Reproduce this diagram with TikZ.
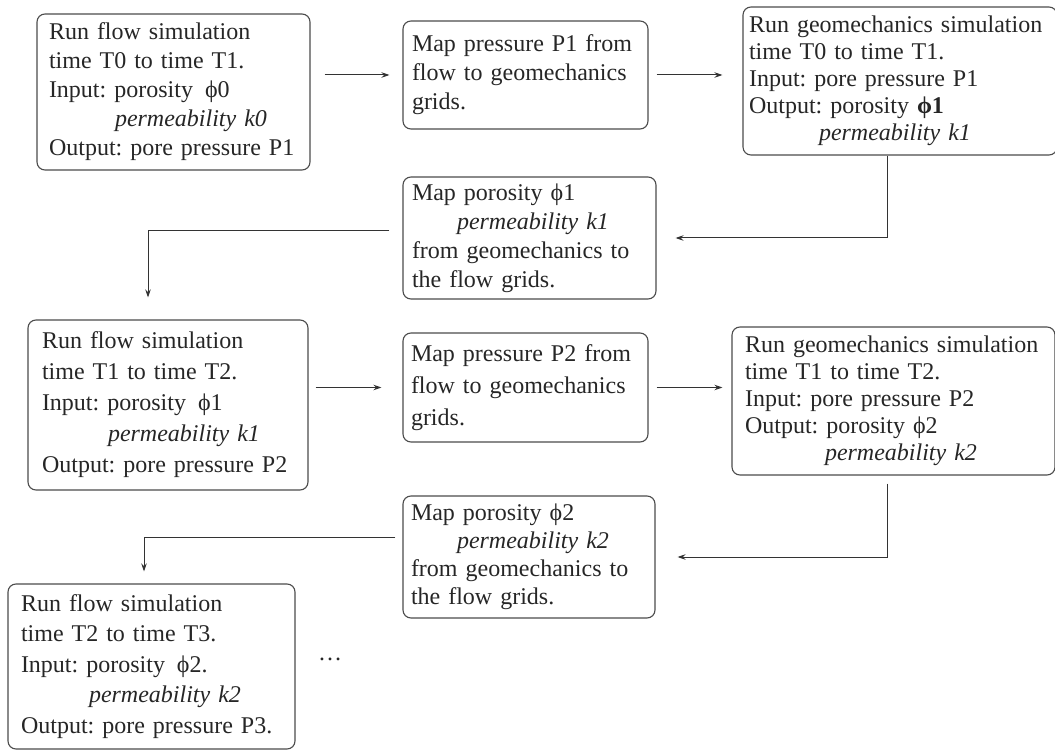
\documentclass[tikz,border=0pt]{standalone}
\usepackage{fontspec}
\setmainfont{Liberation Serif}
\usetikzlibrary{arrows.meta}

\begin{document}
\begin{tikzpicture}[x=1pt, y=-1pt, >={Stealth[length=8pt,width=5.5pt]},
    stage/.style={draw=black!70, line width=1.1pt, rounded corners=8pt, align=left,
        inner sep=0pt, text=black!85, font=\fontsize{24}{29}\selectfont,
        execute at begin node={\frenchspacing\hyphenpenalty=10000\exhyphenpenalty=10000}},
    link/.style={->, line width=1pt, draw=black!80}]
    \useasboundingbox (0,0) rectangle (1055,751);

    % first time step
    \node[stage, minimum width=273pt, minimum height=156pt, text width=249pt] (flowA) at (173.5,92)
        {Run flow simulation\\ time T0 to time T1.\\ Input: porosity\enspace ϕ0\\
         \hspace*{66pt}\textit{permeability k0}\\ Output: pore pressure P1};
    \node[stage, minimum width=245pt, minimum height=108pt, text width=227pt] (mapA) at (525.5,75)
        {Map pressure P1 from\\ flow to geomechanics\\ grids.};
    \node[stage, minimum width=314pt, minimum height=148pt, text width=302pt,
          font=\fontsize{24}{27}\selectfont] (geoA) at (900,81)
        {Run geomechanics simulation\\ time T0 to time T1.\\ Input: pore pressure P1\\
         Output: porosity {\bfseries ϕ1}\\ \hspace*{70pt}\textit{permeability k1}};
    \node[stage, minimum width=253pt, minimum height=122pt, text width=235pt] (mapB) at (529.5,238)
        {Map porosity ϕ1\\ \hspace*{45pt}\textit{permeability k1}\\ from geomechanics to\\ the flow grids.};

    % second time step
    \node[stage, minimum width=280pt, minimum height=170pt, text width=252pt,
          font=\fontsize{24}{31}\selectfont] (flowB) at (168,405)
        {Run flow simulation\\ time T1 to time T2.\\ Input: porosity\enspace ϕ1\\
         \hspace*{66pt}\textit{permeability k1}\\ Output: pore pressure P2};
    \node[stage, minimum width=245pt, minimum height=109pt, text width=229pt,
          font=\fontsize{24}{32}\selectfont] (mapC) at (525.5,387.5)
        {Map pressure P2 from\\ flow to geomechanics\\ grids.};
    \node[stage, minimum width=323pt, minimum height=148pt, text width=297pt,
          font=\fontsize{24}{27}\selectfont] (geoB) at (893.5,401)
        {Run geomechanics simulation\\ time T1 to time T2.\\ Input: pore pressure P2\\
         Output: porosity ϕ2\\ \hspace*{80pt}\textit{permeability k2}};
    \node[stage, minimum width=252pt, minimum height=122pt, text width=236pt,
          font=\fontsize{24}{28}\selectfont] (mapD) at (529,557)
        {Map porosity ϕ2\\ \hspace*{46pt}\textit{permeability k2}\\ from geomechanics to\\ the flow grids.};

    % third time step
    \node[stage, minimum width=287pt, minimum height=165pt, text width=261pt,
          font=\fontsize{24}{30.5}\selectfont] (flowC) at (151.5,666.5)
        {Run flow simulation\\ time T2 to time T3.\\ Input: porosity\enspace ϕ2.\\
         \hspace*{68pt}\textit{permeability k2}\\ Output: pore pressure P3.};
    \node[font=\fontsize{24}{29}\selectfont, text=black!85] (more) at (330,659) {\ldots};

    % connectors
    \draw[link, shorten <=14pt, shorten >=13pt] (flowA.east |- mapA) -- (mapA.west);
    \draw[link, shorten <=8pt, shorten >=20pt] (mapA.east) -- (mapA.east -| geoA.west);
    \draw[link] ([xshift=-13pt]geoA.south) |- ([xshift=19pt]mapB.east);
    \draw[link, shorten <=13pt, shorten >=22pt] ([yshift=7pt]mapB.west) -| ([xshift=-20pt]flowB.north);
    \draw[link, shorten <=7pt, shorten >=21pt] (flowB.east |- mapC) -- (mapC.west);
    \draw[link, shorten <=8pt, shorten >=9pt] (mapC.east) -- (mapC.east -| geoB.west);
    \draw[link, shorten <=8pt] ([xshift=-6.5pt]geoB.south) |- ([xshift=22pt]mapD.east);
    \draw[link, shorten <=7pt, shorten >=12pt] ([yshift=20pt]mapD.west) -| ([xshift=-7.5pt]flowC.north);
\end{tikzpicture}
\end{document}
